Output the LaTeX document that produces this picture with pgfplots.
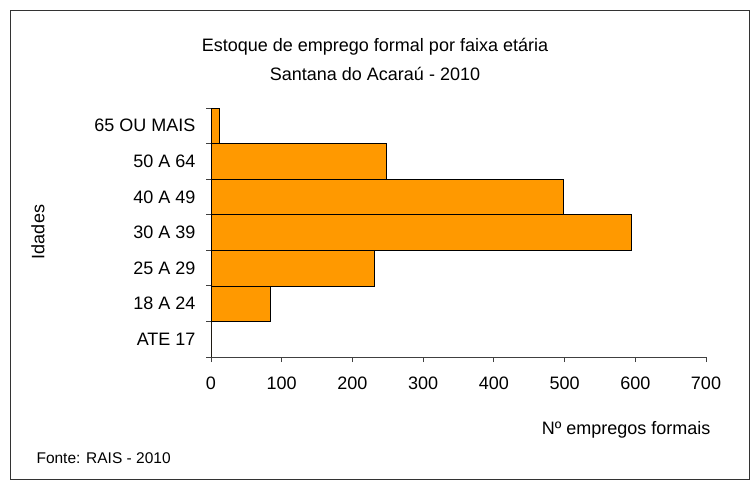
\documentclass[border=0pt]{standalone}
\usepackage{fontspec}
\setmainfont{Liberation Sans}
\usepackage{pgfplots}
\pgfplotsset{compat=1.18}
\definecolor{barorange}{HTML}{FF9900}
\begin{document}
\begin{tikzpicture}[x=1pt,y=1pt]
\path[use as bounding box] (0,0) rectangle (752,-481);
\draw[line width=0.8pt, black!80] (10,-10) rectangle (749,-479);
\begin{axis}[
  at={(211pt,-357pt)}, anchor=south west,
  scale only axis, width=495pt, height=249pt,
  xmin=0, xmax=700, ymin=-0.5, ymax=6.5,
  xbar, bar width=1, bar shift=0pt,
  axis x line=bottom, axis y line=left,
  axis line style={-, black!75, line width=0.8pt},
  every inner x axis line/.append style={-},
  every inner y axis line/.append style={-},
  xtick={0,100,...,700},
  ytick={-0.5,0.5,...,6.5},
  yticklabels={},
  extra y ticks={0,...,6},
  extra y tick labels={ATE 17, 18 A 24, 25 A 29, 30 A 39, 40 A 49, 50 A 64, 65 OU MAIS},
  extra y tick style={tick style={draw=none}},
  tick align=outside,
  major tick length=5pt,
  tick style={black!75, line width=0.8pt},
  xticklabel style={font=\fontsize{18}{18}\selectfont, yshift=-11pt},
  yticklabel style={font=\fontsize{18}{18}\selectfont, xshift=-7pt},
  /pgf/number format/assume math mode=true,
  clip=false,
]
\addplot[fill=barorange, draw=black, line width=0.6pt] coordinates {(0,0) (84,1) (231,2) (594,3) (498,4) (248,5) (12,6)};
\end{axis}
\node[font=\fontsize{18}{18}\selectfont] at (375,-47) {Estoque de emprego formal por faixa etária};
\node[font=\fontsize{18}{18}\selectfont] at (375,-74) {Santana do Acaraú - 2010};
\node[rotate=90, font=\fontsize{18}{18}\selectfont] at (38,-232) {Idades};
\node[anchor=east, font=\fontsize{18}{18}\selectfont] at (714,-430) {Nº empregos formais};
\node[anchor=west, font=\fontsize{15.5}{15.5}\selectfont] at (33,-458) {Fonte: RAIS - 2010};
\end{tikzpicture}
\end{document}
